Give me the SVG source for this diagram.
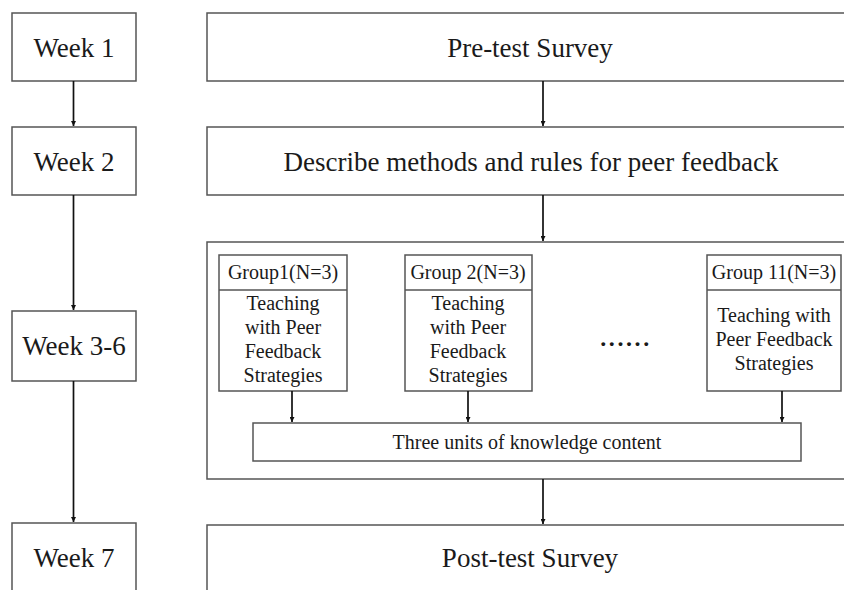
<svg xmlns="http://www.w3.org/2000/svg" width="844" height="590" viewBox="0 0 844 590">
  <defs>
    <marker id="arrow" viewBox="0 0 8 8" refX="8" refY="4" markerWidth="5" markerHeight="5" markerUnits="userSpaceOnUse" orient="auto">
      <path d="M0,0 L8,4 L0,8 Z" fill="#111"/>
    </marker>
    <style>
      .box { fill: #fff; stroke: #555; stroke-width: 1.5; }
      .t { font-family: "Liberation Serif", "Times New Roman", serif; fill: #1a1a1a; text-anchor: middle; }
      .lg { font-size: 27px; }
      .sm { font-size: 20px; }
      .conn line { stroke: #111; stroke-width: 1.7; marker-end: url(#arrow); }
    </style>
  </defs>
  <rect width="844" height="590" fill="#fff"/>

  <!-- timeline column -->
  <g id="week1">
    <rect class="box" x="12" y="13" width="124" height="68"/>
    <text class="t lg" x="74" y="57">Week 1</text>
  </g>
  <g id="week2">
    <rect class="box" x="12" y="127" width="124" height="68"/>
    <text class="t lg" x="74" y="171">Week 2</text>
  </g>
  <g id="week3to6">
    <rect class="box" x="12" y="311" width="124" height="70"/>
    <text class="t lg" x="74" y="355">Week 3-6</text>
  </g>
  <g id="week7">
    <rect class="box" x="12" y="523" width="124" height="80"/>
    <text class="t lg" x="74" y="567">Week 7</text>
  </g>

  <!-- activity column -->
  <g id="pretest">
    <rect class="box" x="207" y="13" width="660" height="68"/>
    <text class="t lg" x="530" y="57">Pre-test Survey</text>
  </g>
  <g id="describe">
    <rect class="box" x="207" y="127" width="660" height="68"/>
    <text class="t lg" x="531" y="171">Describe methods and rules for peer feedback</text>
  </g>
  <g id="teaching">
    <rect class="box" x="207" y="242" width="660" height="237"/>
  </g>
  <g id="group1">
    <rect class="box" x="219" y="255" width="128" height="136"/>
    <line x1="219" y1="290" x2="347" y2="290" stroke="#555" stroke-width="1.5"/>
    <text class="t sm" x="283" y="279">Group1(N=3)</text>
    <text class="t sm" x="283" y="310">Teaching</text>
    <text class="t sm" x="283" y="334">with Peer</text>
    <text class="t sm" x="283" y="358">Feedback</text>
    <text class="t sm" x="283" y="382">Strategies</text>
  </g>
  <g id="group2">
    <rect class="box" x="405" y="255" width="127" height="136"/>
    <line x1="405" y1="290" x2="532" y2="290" stroke="#555" stroke-width="1.5"/>
    <text class="t sm" x="468" y="279">Group 2(N=3)</text>
    <text class="t sm" x="468" y="310">Teaching</text>
    <text class="t sm" x="468" y="334">with Peer</text>
    <text class="t sm" x="468" y="358">Feedback</text>
    <text class="t sm" x="468" y="382">Strategies</text>
  </g>
  <g id="ellipsis">
    <text class="t sm" x="626" y="346" style="font-size:24px; letter-spacing:2.6px; font-weight:bold">......</text>
  </g>
  <g id="group11">
    <rect class="box" x="707" y="255" width="134" height="136"/>
    <line x1="707" y1="290" x2="841" y2="290" stroke="#555" stroke-width="1.5"/>
    <text class="t sm" x="774" y="279">Group 11(N=3)</text>
    <text class="t sm" x="774" y="322">Teaching with</text>
    <text class="t sm" x="774" y="346">Peer Feedback</text>
    <text class="t sm" x="774" y="370">Strategies</text>
  </g>
  <g id="units">
    <rect class="box" x="253" y="423" width="548" height="38"/>
    <text class="t sm" x="527" y="449">Three units of knowledge content</text>
  </g>
  <g id="posttest">
    <rect class="box" x="207" y="525" width="660" height="80"/>
    <text class="t lg" x="530" y="567">Post-test Survey</text>
  </g>

  <!-- connectors -->
  <g id="connectors" class="conn">
    <line x1="73.5" y1="81" x2="73.5" y2="126"/>
    <line x1="73.5" y1="195" x2="73.5" y2="310"/>
    <line x1="73.5" y1="381" x2="73.5" y2="522"/>
    <line x1="543" y1="81" x2="543" y2="126"/>
    <line x1="543" y1="195" x2="543" y2="241"/>
    <line x1="292" y1="391" x2="292" y2="422"/>
    <line x1="468" y1="391" x2="468" y2="422"/>
    <line x1="782" y1="391" x2="782" y2="422"/>
    <line x1="543" y1="479" x2="543" y2="524"/>
  </g>
</svg>
